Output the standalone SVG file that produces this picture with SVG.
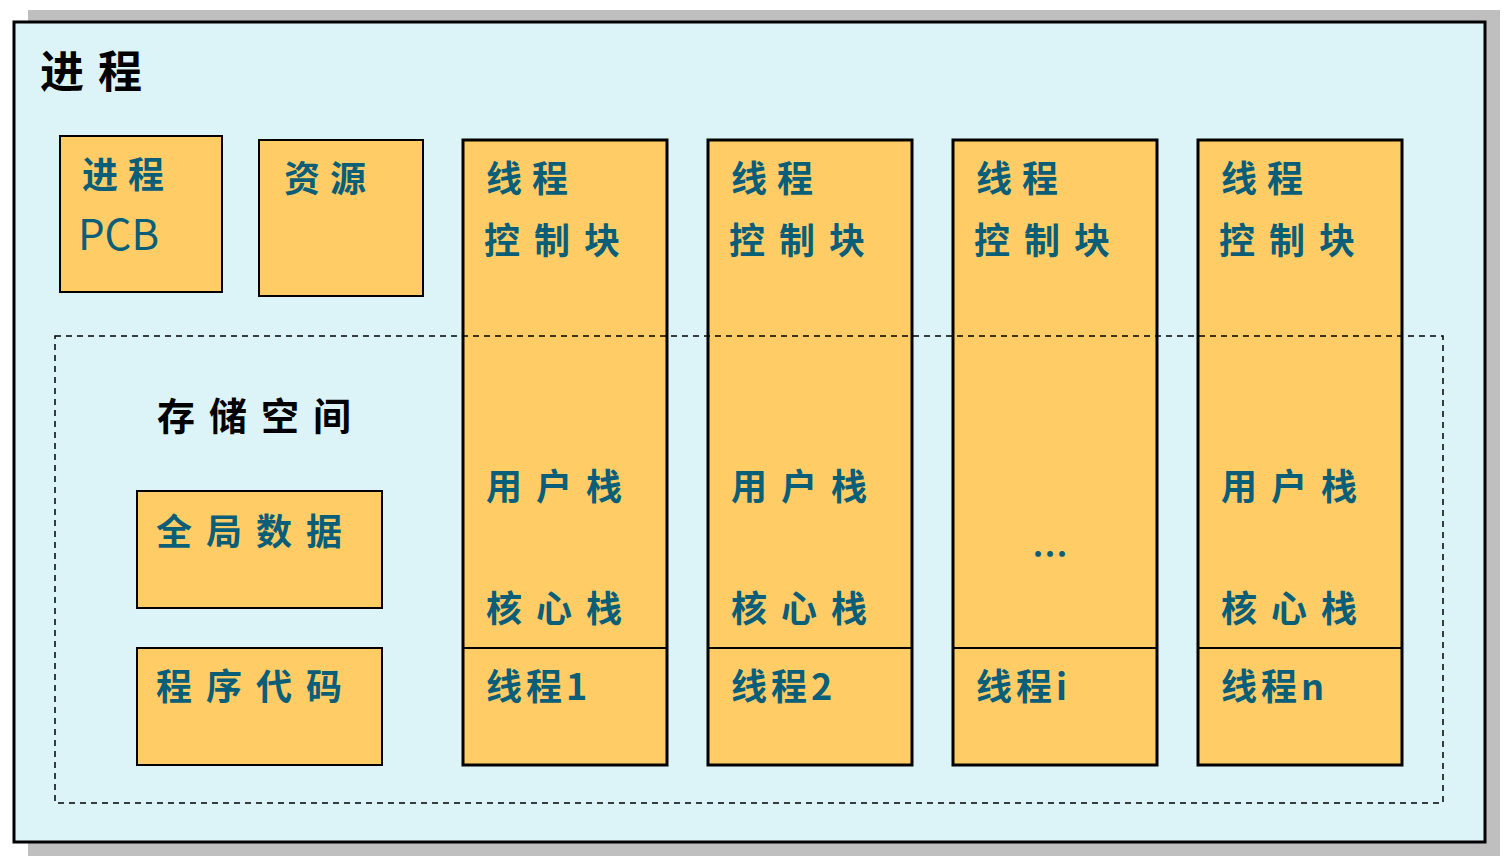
<svg xmlns="http://www.w3.org/2000/svg" width="1510" height="858" viewBox="0 0 1510 858">
<style>
.b{fill:#FFCC66;stroke:#000;stroke-width:2}
.t{fill:#FFCC66;stroke:#000;stroke-width:3}
.x{font-family:"Noto Sans CJK SC","Noto Sans",sans-serif;font-size:36px;font-weight:bold;fill:#0A5E78;letter-spacing:14px}
.k{font-family:"Noto Sans CJK SC",sans-serif;font-size:44px;font-weight:bold;fill:#000;letter-spacing:14px}
</style>
<rect x="0" y="0" width="1510" height="858" fill="#fff"/>
<rect x="28" y="10" width="1472" height="846" fill="#BFBFBF"/>
<rect x="14" y="22" width="1471" height="820" fill="#DCF4F8" stroke="#000" stroke-width="3"/>
<text class="k" x="40" y="88">进程</text>
<g id="pcb"><rect class="b" x="60" y="136" width="162" height="156"/><text class="x" x="82" y="188" style="letter-spacing:10px">进程</text><text class="x" x="78" y="250" style="font-size:42px;letter-spacing:0;font-weight:normal">PCB</text></g>
<g id="res"><rect class="b" x="259" y="140" width="164" height="156"/><text class="x" x="284" y="192" style="letter-spacing:10px">资源</text></g>
<g id="global"><rect class="b" x="137" y="491" width="245" height="117"/><text class="x" x="156" y="545">全局数据</text></g>
<g id="code"><rect class="b" x="137" y="648" width="245" height="117"/><text class="x" x="156" y="700">程序代码</text></g>
<g id="t1"><rect class="t" x="463" y="140" width="204" height="625"/><line x1="463" y1="648" x2="667" y2="648" stroke="#000" stroke-width="2"/>
<text class="x" x="486" y="192" style="letter-spacing:10px">线程</text><text class="x" x="484" y="254">控制块</text><text class="x" x="486" y="500">用户栈</text><text class="x" x="486" y="622">核心栈</text><text class="x" x="486" y="700" style="letter-spacing:4px">线程1</text></g>
<g id="t2"><rect class="t" x="708" y="140" width="204" height="625"/><line x1="708" y1="648" x2="912" y2="648" stroke="#000" stroke-width="2"/>
<text class="x" x="731" y="192" style="letter-spacing:10px">线程</text><text class="x" x="729" y="254">控制块</text><text class="x" x="731" y="500">用户栈</text><text class="x" x="731" y="622">核心栈</text><text class="x" x="731" y="700" style="letter-spacing:4px">线程2</text></g>
<g id="ti"><rect class="t" x="953" y="140" width="204" height="625"/><line x1="953" y1="648" x2="1157" y2="648" stroke="#000" stroke-width="2"/>
<text class="x" x="976" y="192" style="letter-spacing:10px">线程</text><text class="x" x="974" y="254">控制块</text><text class="x" x="1032" y="568" style="letter-spacing:0">…</text><text class="x" x="976" y="700" style="letter-spacing:4px">线程i</text></g>
<g id="tn"><rect class="t" x="1198" y="140" width="204" height="625"/><line x1="1198" y1="648" x2="1402" y2="648" stroke="#000" stroke-width="2"/>
<text class="x" x="1221" y="192" style="letter-spacing:10px">线程</text><text class="x" x="1219" y="254">控制块</text><text class="x" x="1221" y="500">用户栈</text><text class="x" x="1221" y="622">核心栈</text><text class="x" x="1221" y="700" style="letter-spacing:4px">线程n</text></g>
<g id="storage"><rect x="55" y="336" width="1388" height="467" fill="none" stroke="#000" stroke-width="1.5" stroke-dasharray="6,5"/>
<text class="k" x="157" y="430" style="font-size:38px;letter-spacing:14px">存储空间</text></g>
</svg>
